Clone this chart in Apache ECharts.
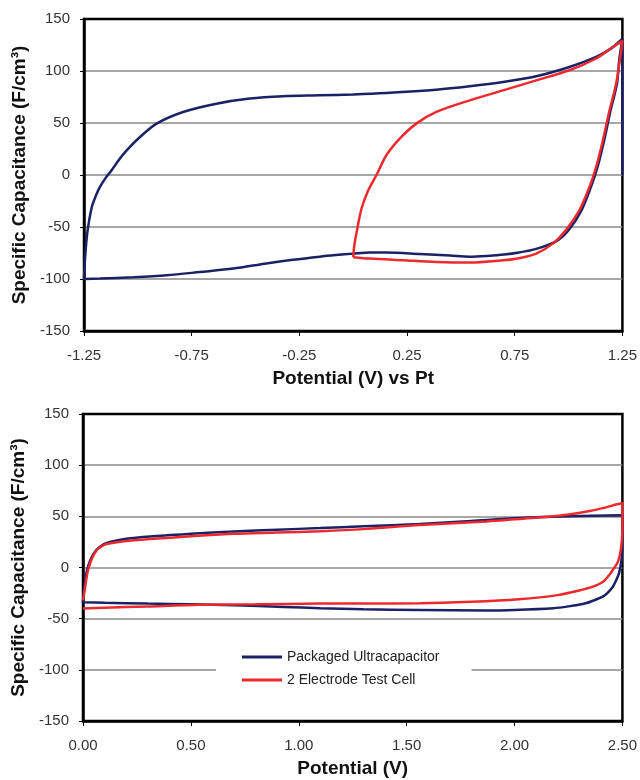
<!DOCTYPE html>
<html>
<head>
<meta charset="utf-8">
<script src="https://cdn.jsdelivr.net/npm/echarts@6/dist/echarts.min.js"></script>
<style>html,body{margin:0;padding:0;background:#fff;}#c{width:640px;height:780px;}</style>
</head>
<body>
<div id="c"></div>
<script>
// ---- Top chart (three-electrode, potential vs Pt) ----
const topTickLabels = [-1.25, -0.75, -0.25, 0.25, 0.75, 1.25];
const yTickValues = [-150, -100, -50, 0, 50, 100, 150];

const topBlueV = [1.25, 1.25, 1.235, 1.225, 1.195, 1.165, 1.135, 1.105, 1.06, 1.0, 0.94, 0.85, 0.77, 0.70, 0.62, 0.54, 0.45, 0.31, 0.154, 0.077, 0.0, -0.08, -0.155, -0.28, -0.403, -0.557, -0.712, -0.866, -1.021, -1.176, -1.25,
  -1.245, -1.235, -1.214, -1.195, -1.176, -1.15, -1.122, -1.09, -1.052, -0.99, -0.913, -0.79, -0.635, -0.48, -0.326, -0.155, 0.0, 0.154, 0.386, 0.541, 0.696, 0.85, 1.004, 1.128, 1.2, 1.25];
const topBlueC = [0, 131, 110, 88, 62, 33, 8, -11, -34, -53, -64, -71, -74.5, -76.5, -77.8, -78.5, -77.5, -76, -74.5, -74.5, -75.6, -77, -78.5, -81.5, -85, -90, -93.3, -96.4, -98.3, -99.6, -100,
  -80, -56, -31, -20, -11.5, -3, 4.5, 14, 23.7, 36.5, 49.4, 60.6, 68.6, 73.5, 75.7, 76.6, 77.5, 78.9, 82, 85.3, 89.4, 94.9, 103.8, 113.5, 122, 131];

const topRedV = [0.0, 0.005, 0.015, 0.039, 0.07, 0.108, 0.154, 0.216, 0.293, 0.386, 0.541, 0.696, 0.85, 1.004, 1.128, 1.205, 1.25,
  1.221, 1.19, 1.159, 1.128, 1.097, 1.05, 0.988, 0.927, 0.85, 0.77, 0.696, 0.541, 0.386, 0.232, 0.077, 0.0];
const topRedC = [-79, -68, -56, -32, -14.7, 0, 19, 35, 49.4, 60.6, 71.8, 81.4, 91, 100.7, 112, 123, 129,
  87.9, 62, 33, 7.7, -11.5, -34, -53, -66, -75.6, -80, -82, -84.2, -83.6, -82, -80.4, -79];

// ---- Bottom chart (cell potential) ----
const bottomTickLabels = [0, 0.5, 1.0, 1.5, 2.0, 2.5];
const seriesNames = ['Packaged Ultracapacitor', '2 Electrode Test Cell'];

const packV = [0.0, 0.003, 0.008, 0.015, 0.025, 0.04, 0.06, 0.08, 0.11, 0.2, 0.31, 0.5, 0.7, 0.9, 1.1, 1.3, 1.56, 1.8, 2.02, 2.25, 2.5,
  2.5, 2.497, 2.485, 2.47, 2.455, 2.43, 2.409, 2.37, 2.33, 2.25, 2.18, 2.0, 1.87, 1.56, 1.3, 1.1, 0.93, 0.7, 0.5, 0.3, 0.1, 0.0];
const packC = [-34, -25, -15, -6, 2, 10, 16.5, 20.5, 24, 28, 30.4, 33, 35.3, 37, 38.5, 40.3, 42.5, 45.5, 48.3, 50, 51,
  30, 10, -5, -13, -19, -25, -28.5, -32, -35, -38, -39.8, -41.5, -42, -41.5, -40.8, -39.8, -38.5, -37, -36, -35.3, -34.5, -34];

const cellV = [0.0, 0.004, 0.008, 0.015, 0.024, 0.04, 0.062, 0.085, 0.11, 0.2, 0.31, 0.5, 0.7, 0.9, 1.1, 1.3, 1.56, 1.87, 2.05, 2.18, 2.33, 2.42, 2.47, 2.5,
  2.5, 2.493, 2.48, 2.46, 2.44, 2.41, 2.36, 2.3, 2.2, 2.02, 1.8, 1.56, 1.3, 1.1, 0.8, 0.54, 0.3, 0.1, 0.0];
const cellC = [-32, -27, -22, -12, -2, 8, 16.5, 20.5, 23, 26, 27.8, 30.5, 33, 34.2, 35.5, 37.5, 41.5, 45, 48, 50, 54.5, 58.5, 61.5, 63,
  37, 18, 6, -1, -7, -14, -19, -22.5, -27, -31, -33.5, -35, -35.2, -35.3, -36, -36.5, -38, -39.3, -40];

const zip = (a, b) => a.map((v, i) => [v, b[i]]);

const FONT = 'Liberation Sans, Arial, sans-serif';
const BLUE = '#1c2166';
const RED = '#ec2a2e';
const labelStyle = { color: '#333', fontSize: 15, fontFamily: FONT };
const nameStyle = { color: '#111', fontSize: 19, fontWeight: 'bold', fontFamily: FONT };

function yAxisFor(gridIndex) {
  return {
    gridIndex, type: 'value', min: -150, max: 150, interval: 50,
    name: 'Specific Capacitance (F/cm³)', nameLocation: 'middle', nameGap: 44, nameRotate: 90,
    nameTextStyle: nameStyle,
    axisLine: { show: true, onZero: false, lineStyle: { color: '#000', width: 2.5 } },
    axisTick: { show: true, inside: false, length: 4, lineStyle: { color: '#000', width: 1 } },
    axisLabel: Object.assign({ margin: 14 }, labelStyle),
    splitLine: { show: true, showMinLine: false, showMaxLine: false, lineStyle: { color: '#8a8a8a', width: 1.5 } }
  };
}

function lineSeries(name, xi, v, c, color) {
  return {
    name, type: 'line', xAxisIndex: xi, yAxisIndex: xi, data: zip(v, c),
    symbol: 'none', showSymbol: false, smooth: 0.3,
    lineStyle: { color, width: 2.5 }, itemStyle: { color }
  };
}

const option = {
  animation: false,
  backgroundColor: '#fff',
  grid: [
    { left: 84, right: 17, top: 19, height: 312, show: true, borderColor: '#000', borderWidth: 2.5, containLabel: false },
    { left: 83, right: 17, top: 414, height: 307, show: true, borderColor: '#000', borderWidth: 2.5, containLabel: false }
  ],
  xAxis: [
    {
      gridIndex: 0, type: 'value', min: -1.25, max: 1.25, interval: 0.25,
      name: 'Potential (V) vs Pt', nameLocation: 'middle', nameGap: 38, nameTextStyle: nameStyle,
      axisLine: { show: true, onZero: false, lineStyle: { color: '#000', width: 2.5 } },
      axisTick: { show: true, length: 5, customValues: topTickLabels, lineStyle: { color: '#000', width: 1 } },
      axisLabel: Object.assign({ margin: 17, customValues: topTickLabels, formatter: v => v.toFixed(2) }, labelStyle),
      splitLine: { show: false }
    },
    {
      gridIndex: 1, type: 'value', min: 0, max: 2.5, interval: 0.5,
      name: 'Potential (V)', nameLocation: 'middle', nameGap: 38, nameTextStyle: nameStyle,
      axisLine: { show: true, onZero: false, lineStyle: { color: '#000', width: 2.5 } },
      axisTick: { show: true, length: 5, lineStyle: { color: '#000', width: 1 } },
      axisLabel: Object.assign({ margin: 17, formatter: v => v.toFixed(2) }, labelStyle),
      splitLine: { show: false }
    }
  ],
  yAxis: [yAxisFor(0), yAxisFor(1)],
  legend: {
    data: [
      { name: seriesNames[0], icon: 'rect', itemStyle: { color: BLUE } },
      { name: seriesNames[1], icon: 'rect', itemStyle: { color: RED } }
    ],
    orient: 'vertical',
    left: 216, top: 641,
    padding: [8, 32, 8, 26],
    itemGap: 7,
    itemWidth: 40, itemHeight: 3,
    backgroundColor: '#fff',
    textStyle: { color: '#222', fontSize: 14, fontFamily: FONT, lineHeight: 16 }
  },
  series: [
    lineSeries('top-blue', 0, topBlueV, topBlueC, BLUE),
    lineSeries('top-red', 0, topRedV, topRedC, RED),
    lineSeries(seriesNames[0], 1, packV, packC, BLUE),
    lineSeries(seriesNames[1], 1, cellV, cellC, RED)
  ]
};

const chart = echarts.init(document.getElementById('c'), null, { renderer: 'canvas' });
chart.setOption(option);
</script>
</body>
</html>
